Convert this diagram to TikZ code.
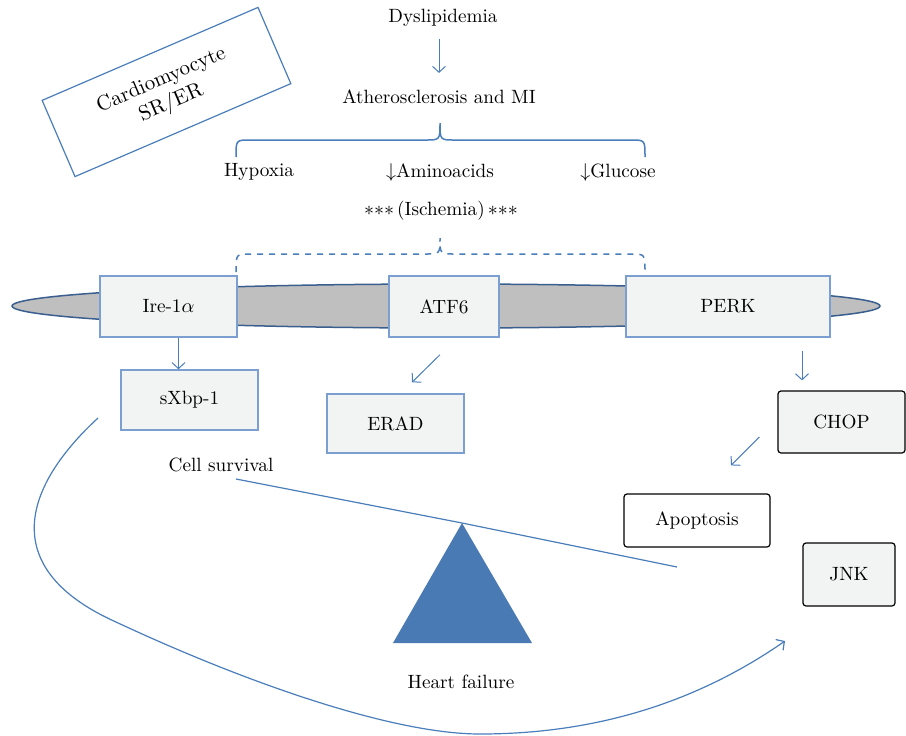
\documentclass[tikz,border=0pt]{standalone}
\usepackage{amsmath, amssymb}
\usepackage{xcolor}
\usepackage{tikz}
\usetikzlibrary{positioning, arrows.meta}

\definecolor{lineblue}{HTML}{4A7EBB}
\definecolor{boxedge}{HTML}{7B9FD0}
\definecolor{boxfill}{HTML}{F2F3F3}
\definecolor{memfill}{HTML}{BFBFBF}
\definecolor{memedge}{HTML}{3A5F8F}
\definecolor{trifill}{HTML}{4A7AB3}

\begin{document}
\begin{tikzpicture}[x=0.5pt, y=-0.5pt, font=\fontsize{9.6}{11.5}\selectfont,
    >={Straight Barb[length=3pt, width=6.5pt]},
    link/.style={draw=lineblue, line width=0.5pt},
    membox/.style={draw=boxedge, fill=boxfill, line width=0.75pt},
    outbox/.style={draw=black, line width=0.6pt, rounded corners=1.5pt}]
    \useasboundingbox (0,0) rectangle (906,735);

    \node (dys) at (443,18) {Dyslipidemia};
    \node (ath) at (439,97) {Atherosclerosis and MI};
    \node (hyp) at (259,172) {Hypoxia};
    \node (amino) at (440,172) {$\downarrow$Aminoacids};
    \node (gluc) at (618,172) {$\downarrow$Glucose};
    \node (isch) at (441,211) {$*{*}*$\,(Ischemia)\,$*{*}*$};
    \node[draw=lineblue, line width=0.6pt, rotate=23.3, minimum width=117.5pt,
        minimum height=41.5pt, align=center, font=\fontsize{10.5}{12.5}\selectfont]
        (cardio) at (166.5,92) {Cardiomyocyte\\SR/ER};

    \draw[link, ->, shorten <=2.5pt, shorten >=5pt] ([xshift=-2pt]dys.south) -- ([xshift=-2pt]dys.south |- ath.north);
    \draw[link, line width=0.75pt] (236,157) .. controls (236,140) .. (250,140) -- (425,140)
        .. controls (440,140) .. (440,123) .. controls (440,140) .. (455,140) -- (631,140)
        .. controls (645,140) .. (645,157);
    \draw[link, line width=0.75pt, dashed] (236,272) .. controls (236,254) .. (250,254) -- (425,254)
        .. controls (440,254) .. (440,238) .. controls (440,254) .. (455,254) -- (631,254)
        .. controls (645,254) .. (645,272);

    \draw[draw=memedge, fill=memfill, line width=0.75pt] (446,306) ellipse [x radius=217pt, y radius=11pt];

    \node[membox, minimum width=68.5pt, minimum height=30.5pt] (ire) at (168.5,306.5) {Ire-1$\alpha$};
    \node[membox, minimum width=55pt, minimum height=30.5pt] (atf) at (444,306.5) {ATF6};
    \node[membox, minimum width=102pt, minimum height=30.5pt] (perk) at (728,306.5) {PERK};
    \node[membox, minimum width=68.5pt, minimum height=30pt] (sxbp) at (189.5,400) {sXbp-1};
    \node[membox, minimum width=68.5pt, minimum height=29.5pt] (erad) at (395.5,423.5) {ERAD};
    \node[outbox, fill=boxfill, minimum width=63.5pt, minimum height=31pt] (chop) at (841.5,422) {CHOP};
    \node[outbox, fill=white, minimum width=73pt, minimum height=26.5pt] (apop) at (697,520.5) {Apoptosis};
    \node[outbox, fill=boxfill, minimum width=46pt, minimum height=31.5pt] (jnk) at (849,574.5) {JNK};

    \draw[link, ->] ([xshift=5pt]ire.south) -- ([xshift=5pt]ire.south |- sxbp.north);
    \draw[link, ->] ([xshift=-2pt, yshift=-8.5pt]atf.south) -- ([xshift=8.25pt, yshift=5.5pt]erad.north);
    \draw[link, ->] ([xshift=37pt, yshift=-6.5pt]perk.south) -- ([xshift=-19.75pt, yshift=5pt]chop.north);
    \draw[link, ->] ([xshift=-9pt, yshift=-7.5pt]chop.west) -- ([xshift=17pt, yshift=14pt]apop.north);

    \node (surv) at (221,465) {Cell survival};
    \node (hf) at (461,682) {Heart failure};
    \coordinate (pivot) at (462,523);
    \fill[trifill] (pivot) -- (532,643) -- (393,643) -- cycle;
    \draw[link, line width=0.6pt] (236,479) -- (pivot) -- (677,567);

    \coordinate (loopstart) at (98,418);
    \coordinate (loopend) at (785,641);
    \draw[link, ->, line width=0.6pt] (loopstart) .. controls (20,490) and (0,570) .. (116,622)
        .. controls (240,680) and (390,734) .. (480,734)
        .. controls (600,734) and (700,700) .. (loopend);
\end{tikzpicture}
\end{document}
